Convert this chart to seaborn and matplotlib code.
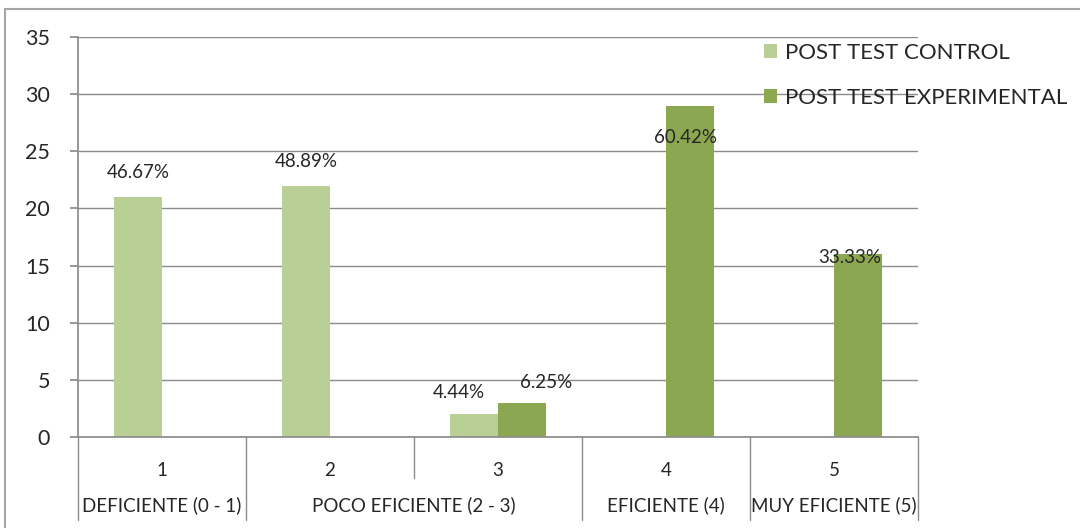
import matplotlib
matplotlib.use("Agg")
import matplotlib.pyplot as plt
import seaborn as sns
import pandas as pd
from matplotlib.patches import Patch, Rectangle
from matplotlib.lines import Line2D
import matplotlib.transforms as mtrans

categories = ["1", "2", "3", "4", "5"]
series_names = ["POST TEST CONTROL", "POST TEST EXPERIMENTAL"]
control = [21, 22, 2, 0, 0]
experimental = [0, 0, 3, 29, 16]
control_labels = ["46.67%", "48.89%", "4.44%", "", ""]
experimental_labels = ["", "", "6.25%", "60.42%", "33.33%"]
group_labels = ["DEFICIENTE (0 - 1)", "POCO EFICIENTE (2 - 3)", "EFICIENTE (4)", "MUY EFICIENTE (5)"]
group_spans = [(0, 0), (1, 2), (3, 3), (4, 4)]
yticks = [0, 5, 10, 15, 20, 25, 30, 35]

colors = ["#BACF96", "#8BA751"]
grid_color = "#8C8C8C"

sns.set_theme(style="white")
plt.rcParams["font.family"] = ["Lato", "DejaVu Sans"]

df = pd.DataFrame({
    "cat": categories * 2,
    "value": control + experimental,
    "series": [series_names[0]] * 5 + [series_names[1]] * 5,
})

fig = plt.figure(figsize=(10.8, 5.28), dpi=100)
ax = fig.add_axes([78 / 1080, 1 - 437 / 528, 840 / 1080, 400 / 528])

sns.barplot(data=df, x="cat", y="value", hue="series", palette=colors,
            width=0.572, ax=ax, legend=False, saturation=1, edgecolor="none")

ax.set_ylim(0, 35)
ax.set_xlim(-0.5, 4.5)
ax.set_yticks(yticks)
ax.set_yticklabels([str(t) for t in yticks], fontsize=15.5)
ax.yaxis.grid(True, color=grid_color, linewidth=1)
ax.set_axisbelow(True)
for s in ["top", "right"]:
    ax.spines[s].set_visible(False)
ax.spines["left"].set_color(grid_color)
ax.spines["bottom"].set_color(grid_color)
ax.tick_params(axis="y", length=6, color=grid_color, pad=14, left=True)
ax.set_xlabel("")
ax.set_ylabel("")
ax.set_xticks(range(len(categories)))
ax.set_xticklabels(categories, fontsize=13.5)
ax.tick_params(axis="x", length=0, pad=18)

# data labels (offset in pixels)
offsets_c = [(0, 24), (0, 24), (-15, 22), (0, 0), (0, 0)]
offsets_e = [(0, 0), (0, 0), (24, 20), (-5, -32), (-8, -3)]
conts = ax.containers
for i, (lab, v) in enumerate(zip(control_labels, control)):
    if lab:
        bar = conts[0][i]
        ax.annotate(lab, (bar.get_x() + bar.get_width() / 2, v), xytext=offsets_c[i],
                    textcoords="offset pixels", ha="center", va="center", fontsize=13.5)
for i, (lab, v) in enumerate(zip(experimental_labels, experimental)):
    if lab:
        bar = conts[1][i]
        ax.annotate(lab, (bar.get_x() + bar.get_width() / 2, v), xytext=offsets_e[i],
                    textcoords="offset pixels", ha="center", va="center", fontsize=13.5)

# two-level category axis separators
trans = mtrans.blended_transform_factory(ax.transData, ax.transAxes)
full_b = [-0.5, 0.5, 2.5, 3.5, 4.5]
for xb in full_b:
    ax.add_line(Line2D([xb, xb], [0, -83 / 400], transform=trans, color=grid_color,
                       linewidth=1, clip_on=False))
ax.add_line(Line2D([1.5, 1.5], [0, -41 / 400], transform=trans, color=grid_color,
                   linewidth=1, clip_on=False))
for lab, (a, b) in zip(group_labels, group_spans):
    ax.text((a + b) / 2, -68 / 400, lab, transform=trans, ha="center", va="center", fontsize=13.5)

# legend
handles = [Patch(facecolor=c, edgecolor="none") for c in colors]
fig.legend(handles, series_names, loc="upper left", bbox_to_anchor=(764 / 1080, 1 - 43 / 528),
           frameon=False, fontsize=16, handlelength=0.6, handleheight=0.6,
           handletextpad=0.35, labelspacing=1.12, borderaxespad=0, borderpad=0)

# outer chart border
fig.add_artist(Rectangle((5 / 1080, -0.2), 1.3, 1.2 - 9 / 528, transform=fig.transFigure,
                         fill=False, edgecolor="#A6A6A6", linewidth=1.5, clip_on=False))

fig.savefig("out.png", dpi=100)
